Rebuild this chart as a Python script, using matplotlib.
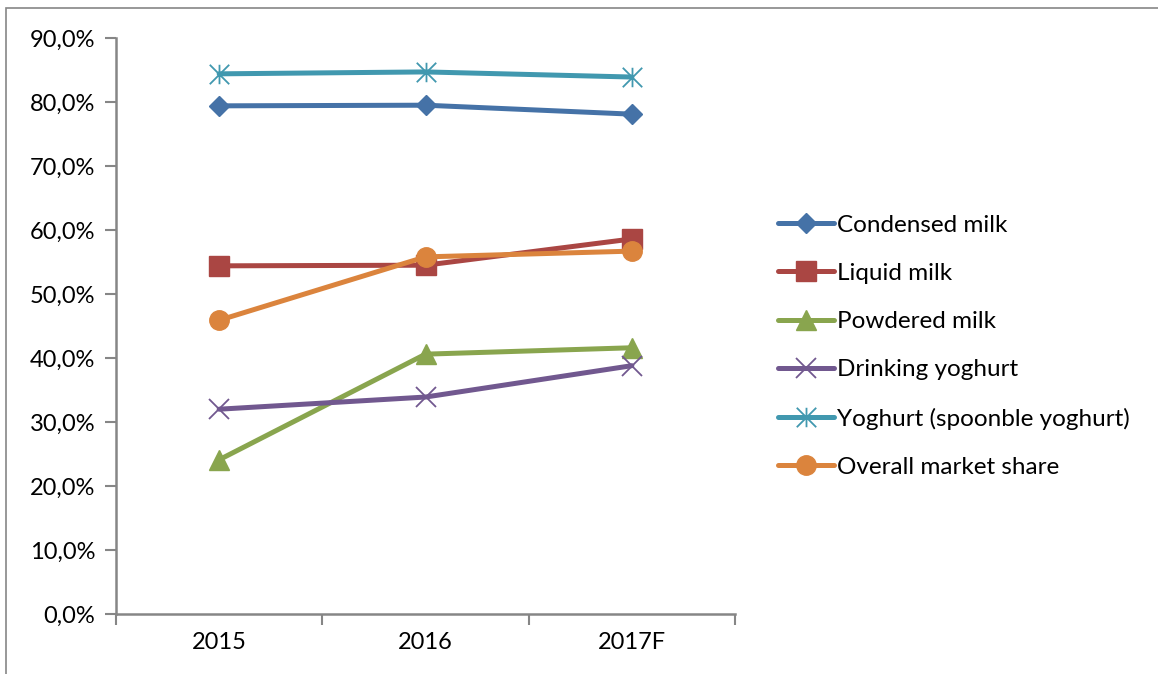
import matplotlib.pyplot as plt
import numpy as np
from matplotlib.path import Path
from matplotlib.patches import Rectangle
from matplotlib.ticker import FuncFormatter

plt.rcParams['font.family'] = ['Lato', 'DejaVu Sans']

years = ['2015', '2016', '2017F']
condensed = [79.4, 79.5, 78.1]
liquid = [54.4, 54.5, 58.6]
powdered = [24.1, 40.6, 41.6]
drinking = [32.0, 33.9, 38.8]
spoon = [84.4, 84.7, 83.9]
overall = [45.9, 55.8, 56.7]

# asterisk marker: vertical bar plus an X
star = Path([(0, -1), (0, 1), (-1, -1), (1, 1), (-1, 1), (1, -1)],
            [Path.MOVETO, Path.LINETO, Path.MOVETO, Path.LINETO, Path.MOVETO, Path.LINETO])

series = [
    ('Condensed milk', condensed, '#4572A7', 'D', 10, 1),
    ('Liquid milk', liquid, '#AA4643', 's', 14, 1),
    ('Powdered milk', powdered, '#89A54E', '^', 14, 1),
    ('Drinking yoghurt', drinking, '#71588F', 'x', 14, 1.3),
    ('Yoghurt (spoonble yoghurt)', spoon, '#4198AF', star, 14, 1.3),
    ('Overall market share', overall, '#DB843D', 'o', 14, 1),
]

fig = plt.figure(figsize=(11.58, 6.74), dpi=100)
W, H = 1158, 674
ax = fig.add_axes([116 / W, 1 - 614 / H, (735 - 116) / W, (614 - 38) / H])

x = np.arange(len(years))
for name, vals, col, mk, ms, mew in series:
    ax.plot(x, vals, color=col, lw=3.6, marker=mk, markersize=ms,
            markeredgewidth=mew, markeredgecolor=col, markerfacecolor=col,
            label=name, solid_capstyle='round')

ax.set_xlim(-0.5, 2.5)
ax.set_ylim(0, 90)
ax.set_yticks(np.arange(0, 91, 10))
ax.yaxis.set_major_formatter(FuncFormatter(lambda v, p: f'{v:.1f}%'.replace('.', ',')))

# category labels centred, tick marks between categories
ax.set_xticks([-0.5, 0.5, 1.5, 2.5])
ax.set_xticklabels([])
ax.set_xticks(x, minor=True)
ax.set_xticklabels(years, minor=True)
ax.tick_params(axis='x', which='minor', length=0, pad=13, labelsize=17)
ax.tick_params(axis='x', which='major', length=8, width=1.5, color='#868686')
ax.tick_params(axis='y', length=8, width=1.5, color='#868686', labelsize=17, pad=7)

for s in ['top', 'right']:
    ax.spines[s].set_visible(False)
for s in ['left', 'bottom']:
    ax.spines[s].set_color('#868686')
    ax.spines[s].set_linewidth(1.8)

leg = fig.legend(loc='upper left', bbox_to_anchor=(768 / W, 1 - 205 / H),
                 frameon=False, fontsize=17.5, handlelength=2.3, handletextpad=0.12,
                 labelspacing=1.12, borderaxespad=0)

# outer chart border
fig.patches.append(Rectangle((6 / W, -0.1), 1.2, 1 - 8 / H + 0.1, transform=fig.transFigure,
                             fill=False, edgecolor='#868686', lw=1.2))

fig.savefig('out.png', dpi=100)
